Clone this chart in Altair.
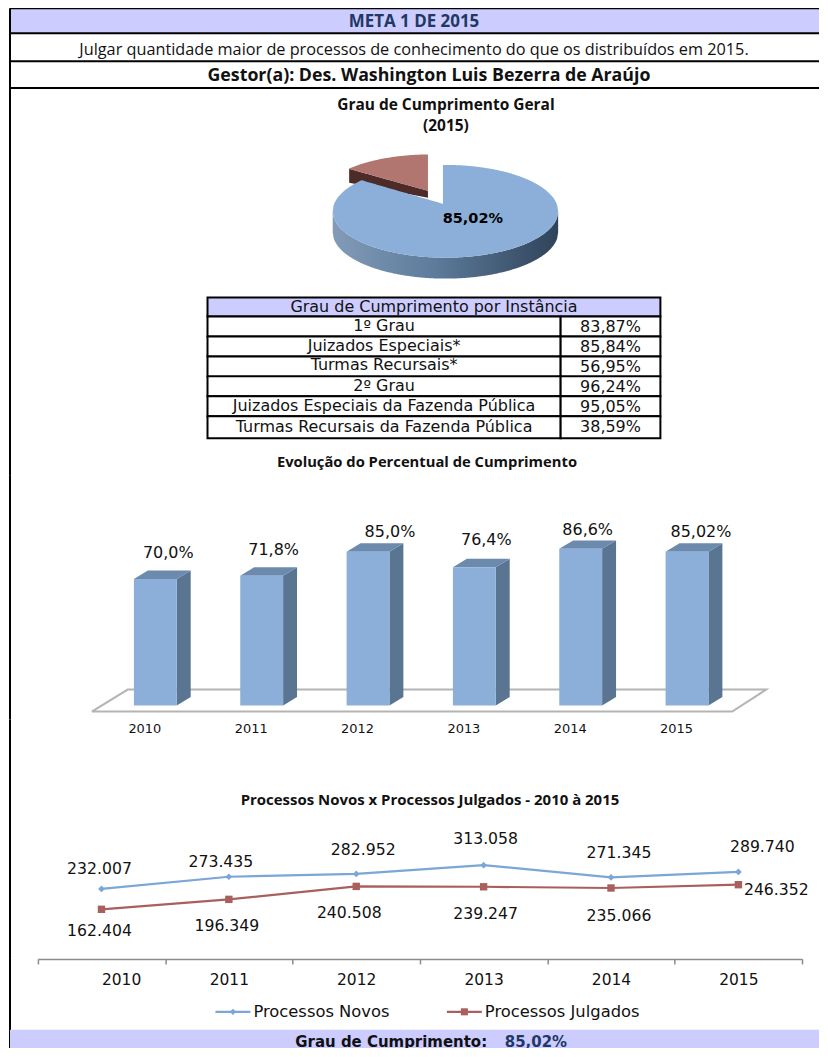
import math
import altair as alt
import pandas as pd

# ---------- data ----------
years = [2010, 2011, 2012, 2013, 2014, 2015]
pct_values = [70.0, 71.8, 85.0, 76.4, 86.6, 85.02]
pct_labels = ["70,0%", "71,8%", "85,0%", "76,4%", "86,6%", "85,02%"]
novos = [232007, 273435, 282952, 313058, 271345, 289740]
novos_labels = ["232.007", "273.435", "282.952", "313.058", "271.345", "289.740"]
julgados = [162404, 196349, 240508, 239247, 235066, 246352]
julgados_labels = ["162.404", "196.349", "240.508", "239.247", "235.066", "246.352"]
instancias = ["1º Grau", "Juizados Especiais*", "Turmas Recursais*", "2º Grau",
              "Juizados Especiais da Fazenda Pública", "Turmas Recursais da Fazenda Pública"]
instancia_pct = ["83,87%", "85,84%", "56,95%", "96,24%", "95,05%", "38,59%"]

# ---------- layout ----------
LILAC = "#ccccff"
NAVY = "#1f3864"
SANS = "DejaVu Sans"
CAL = "Open Sans"
P = [8, 480, 725, 965, 1057]   # panel limits in page pixels
RIGHT = 820
W = RIGHT - 8


def sx():
    return alt.Scale(domain=[8, RIGHT], nice=False, zero=False)


def sy(i):
    return alt.Scale(domain=[P[i + 1], P[i]], nice=False, zero=False)


def ch(df):
    return alt.Chart(pd.DataFrame(df))


def px_enc(i, **kw):
    return dict(x=alt.X("x:Q", scale=sx(), axis=None), y=alt.Y("y:Q", scale=sy(i), axis=None), **kw)


def texts(i, rows, **mk):
    return ch(rows).mark_text(baseline="middle", **mk).encode(**px_enc(i, text="t:N"))


def frame(i):
    return ch({"x": [9], "y": [max(P[i], 12)], "y2": [P[i + 1]]}).mark_rule(color="black", strokeWidth=2).encode(
        x=alt.X("x:Q", scale=sx(), axis=None), y=alt.Y("y:Q", scale=sy(i), axis=None), y2="y2:Q")


def area(i, pts, **mk):
    return ch(pts).mark_area(**mk).encode(
        x=alt.X("x:Q", scale=sx(), axis=None), y=alt.Y("y:Q", scale=sy(i), axis=None), y2="y2:Q", detail="k:N")


# ---------- panel 1: header, pie, table ----------
row_lines = [12, 37, 65, 92]
fills = ch({"x": [9], "x2": [RIGHT], "y": [12], "y2": [37]}).mark_rect(color=LILAC).encode(
    x=alt.X("x:Q", scale=sx(), axis=None), x2="x2:Q", y=alt.Y("y:Q", scale=sy(0), axis=None), y2="y2:Q")
rules = ch({"x": [9] * 4, "x2": [RIGHT] * 4, "y": row_lines}).mark_rule(color="black", strokeWidth=2).encode(
    x=alt.X("x:Q", scale=sx(), axis=None), x2="x2:Q", y=alt.Y("y:Q", scale=sy(0), axis=None))
head1 = texts(0, {"x": [414], "y": [26], "t": ["META 1 DE 2015"]}, font=CAL, fontSize=17, fontWeight="bold", color=NAVY)
head2 = texts(0, {"x": [414], "y": [54], "t": ["Julgar quantidade maior de processos de conhecimento do que os distribuídos em 2015."]},
              font=CAL, fontSize=16.3, color="#111111")
head3 = texts(0, {"x": [429], "y": [80], "t": ["Gestor(a): Des. Washington Luis Bezerra de Araújo"]},
              font=CAL, fontSize=17.8, fontWeight="bold", color="#111111")
t_pie = texts(0, {"x": [446, 446], "y": [109, 130], "t": ["Grau de Cumprimento Geral", "(2015)"]},
              font=CAL, fontSize=15.5, fontWeight="bold", color="#111111")
t_bar = texts(0, {"x": [427], "y": [468], "t": ["Evolução do Percentual de Cumprimento"]},
              font=CAL, fontSize=14.8, fontWeight="bold", color="#111111")

# 3-D pie, an ellipse cut at the slice boundary
CX, CY, RX, RY, DEPTH = 445.5, 215.5, 113, 46.5, 21
APEX_X, APEX_Y = 443, 208
CUT = math.radians(312)


def e_top(x, cx=CX, cy=CY):
    return cy - RY * math.sqrt(max(0, 1 - ((x - cx) / RX) ** 2))


def e_bot(x, cx=CX, cy=CY):
    return cy + RY * math.sqrt(max(0, 1 - ((x - cx) / RX) ** 2))


xs = [CX - RX + i * (2 * RX) / 240 for i in range(241)]
wall = {"x": xs, "y": [e_bot(x) for x in xs], "y2": [e_bot(x) + DEPTH for x in xs], "k": ["w"] * 241}
side_grad = alt.Gradient(gradient="linear", x1=0, x2=1, y1=0, y2=0, stops=[
    alt.GradientStop(color="#829bb8", offset=0), alt.GradientStop(color="#5d7b9b", offset=0.45),
    alt.GradientStop(color="#30435a", offset=1)])
pie_wall = area(0, wall, color=side_grad)
cut_x = CX + RX * math.sin(CUT)
cut_y = CY - RY * math.cos(CUT)
bx, btop, bbot = [], [], []
done = False
for x in xs:
    if x < cut_x:
        bx.append(x); btop.append(e_top(x)); bbot.append(e_bot(x))
    elif x <= APEX_X:
        f = (x - cut_x) / (APEX_X - cut_x)
        bx.append(x); btop.append(cut_y + f * (APEX_Y - cut_y)); bbot.append(e_bot(x))
    else:
        if not done:
            done = True
            bx.append(APEX_X); btop.append(APEX_Y); bbot.append(e_bot(APEX_X))
            bx.append(APEX_X + 0.01); btop.append(e_top(APEX_X + 0.01)); bbot.append(e_bot(APEX_X))
        bx.append(x); btop.append(e_top(x)); bbot.append(e_bot(x))
pie_blue = area(0, {"x": bx, "y": btop, "y2": bbot, "k": ["b"] * len(bx)}, color="#8bafd8")

# exploded slice
OX, OY = -15.5, -10.5
rcx, rcy = CX + OX, CY + OY
rax, ray = 428, 195
tip_x, tip_y = 349, 173
rx_ = [tip_x + i * (rax - tip_x) / 60 for i in range(61)]
ry_ = [tip_y + (x - tip_x) / (rax - tip_x) * (ray - tip_y) for x in rx_]
red_side = area(0, {"x": rx_, "y": ry_, "y2": [y + 14 - 7 * (x - tip_x) / (rax - tip_x) for x, y in zip(rx_, ry_)],
                    "k": ["s"] * 61}, color="#4d2b29")
red_top = area(0, {"x": rx_, "y": [min(e_top(x, rcx, rcy), y) for x, y in zip(rx_, ry_)], "y2": ry_,
                   "k": ["t"] * 61}, color="#b1766f")
pie_lab = texts(0, {"x": [473], "y": [223], "t": ["85,02%"]}, font=SANS, fontSize=14.5, fontWeight="bold", color="black")

# table
tab_y = [302, 321, 341, 361, 381, 401, 421, 443]
T_L, T_M, T_R = 207, 561, 661
tab_h = ch({"x": [T_L], "x2": [T_R], "y": [tab_y[0]], "y2": [tab_y[1]]}).mark_rect(color=LILAC, stroke="black", strokeWidth=2).encode(
    x=alt.X("x:Q", scale=sx(), axis=None), x2="x2:Q", y=alt.Y("y:Q", scale=sy(0), axis=None), y2="y2:Q")
cells = {"x": [], "x2": [], "y": [], "y2": []}
for k in range(6):
    for a, b in ((T_L, T_M), (T_M, T_R)):
        cells["x"].append(a); cells["x2"].append(b); cells["y"].append(tab_y[k + 1]); cells["y2"].append(tab_y[k + 2])
tab_c = ch(cells).mark_rect(fill="white", stroke="black", strokeWidth=2).encode(
    x=alt.X("x:Q", scale=sx(), axis=None), x2="x2:Q", y=alt.Y("y:Q", scale=sy(0), axis=None), y2="y2:Q")
tab_t0 = texts(0, {"x": [434], "y": [311], "t": ["Grau de Cumprimento por Instância"]}, font=SANS, fontSize=16, color="#111111")
tab_t1 = texts(0, {"x": [384] * 6, "y": [331, 351, 370, 391, 411, 432], "t": instancias}, font=SANS, fontSize=16, color="#111111")
tab_t2 = texts(0, {"x": [611] * 6, "y": [332, 352, 372, 392, 412, 432], "t": instancia_pct}, font=SANS, fontSize=16, color="#111111")

p1 = alt.layer(fills, rules, frame(0), head1, head2, head3, t_pie, t_bar, pie_wall, red_side, red_top, pie_blue, pie_lab,
               tab_h, tab_c, tab_t0, tab_t1, tab_t2).properties(width=W, height=P[1] - P[0])

# ---------- panel 2: 3-D columns ----------
BAR_K = 1.814          # pixels per percent point
BAR_BASE = 711
STEP = 106.6
C0 = 154.7
HALF = 0.2015
DX = 0.131
DZ = 8.5 / BAR_K


def to_year(p):
    return 2010 + (p - C0) / STEP


def to_pct(p):
    return (BAR_BASE - p) / BAR_K


xb = alt.Scale(domain=[to_year(8), to_year(RIGHT)], nice=False, zero=False)
yb = alt.Scale(domain=[to_pct(P[2]), to_pct(P[1])], nice=False, zero=False)
xb_axis = alt.Axis(values=years, format="d", title=None, domain=False, ticks=False, grid=False,
                   labelFont=SANS, labelFontSize=13, labelColor="#111111", labelOffset=-11, labelPadding=3)
floor_x = [91, 733, 767, 127, 91]
floor_y = [717, 717, 695, 695, 717]
floor = ch({"x": [to_year(v) for v in floor_x], "y": [to_pct(v) for v in floor_y], "o": list(range(5))}).mark_line(
    color="#b4b4b4", strokeWidth=2).encode(
    x=alt.X("x:Q", scale=xb, axis=xb_axis), y=alt.Y("y:Q", scale=yb, axis=None), order="o:Q")
front = ch({"x": [y - HALF for y in years], "x2": [y + HALF for y in years], "y": pct_values, "y2": [0] * 6}).mark_rect(
    color="#8bafd8").encode(x=alt.X("x:Q", scale=xb, axis=xb_axis), x2="x2:Q", y=alt.Y("y:Q", scale=yb, axis=None), y2="y2:Q")
side_rows = {"x": [], "y": [], "y2": [], "yr": []}
top_rows = {"x": [], "y": [], "y2": [], "yr": []}
for yr, v in zip(years, pct_values):
    side_rows["x"] += [yr + HALF, yr + HALF + DX]
    side_rows["y"] += [v, v + DZ]
    side_rows["y2"] += [0, DZ]
    side_rows["yr"] += [yr, yr]
    top_rows["x"] += [yr - HALF, yr - HALF + DX, yr + HALF, yr + HALF + DX]
    top_rows["y"] += [v, v + DZ, v + DZ, v + DZ]
    top_rows["y2"] += [v, v, v, v + DZ]
    top_rows["yr"] += [yr] * 4
side = ch(side_rows).mark_area(color="#5a7591").encode(
    x=alt.X("x:Q", scale=xb, axis=xb_axis), y=alt.Y("y:Q", scale=yb, axis=None), y2="y2:Q", detail="yr:N")
top = ch(top_rows).mark_area(color="#6b8aae").encode(
    x=alt.X("x:Q", scale=xb, axis=xb_axis), y=alt.Y("y:Q", scale=yb, axis=None), y2="y2:Q", detail="yr:N")
bar_dx = [13, 12, 22, 12, 7, 14]
bar_lift = [26, 26, 20, 27, 19, 20]
bar_txt = ch({"x": [y + d / STEP for y, d in zip(years, bar_dx)],
              "y": [v + l / BAR_K for v, l in zip(pct_values, bar_lift)], "t": pct_labels}).mark_text(
    font=SANS, fontSize=16, color="#111111", baseline="middle").encode(
    x=alt.X("x:Q", scale=xb, axis=xb_axis), y=alt.Y("y:Q", scale=yb, axis=None), text="t:N")
p2_frame = ch({"x": [to_year(9)], "y": [to_pct(P[1])], "y2": [to_pct(P[2])]}).mark_rule(color="black", strokeWidth=2).encode(
    x=alt.X("x:Q", scale=xb, axis=xb_axis), y=alt.Y("y:Q", scale=yb, axis=None), y2="y2:Q")
p2 = alt.layer(p2_frame, floor, side, top, front, bar_txt).properties(width=W, height=P[2] - P[1])

# ---------- panel 3: lines ----------
LINE_K = 0.000294      # pixels per process
LINE_ZERO = 963
L_STEP = 127.7
L0 = 100.7
xl = alt.Scale(domain=[2009.5, 2015.5], range=[L0 - L_STEP / 2 - 8, L0 + 5.5 * L_STEP - 8], nice=False, zero=False)
yl = alt.Scale(domain=[(LINE_ZERO - P[3]) / LINE_K, (LINE_ZERO - P[2]) / LINE_K], nice=False, zero=False)
edges = [2009.5 + i for i in range(7)]
xl_axis = alt.Axis(values=edges, title=None, grid=False, labelExpr="datum.value < 2015 ? format(datum.value + 0.5, 'd') : ''",
                   labelOffset=63.8, labelFont=SANS, labelFontSize=15.5, labelColor="#111111", labelPadding=9,
                   domainColor="#8c8c8c", tickColor="#8c8c8c", tickSize=5, domainWidth=1.5, tickWidth=1.5)
ex = alt.X("x:Q", scale=xl, axis=xl_axis)
ey = alt.Y("y:Q", scale=yl, axis=None)
line_n = ch({"x": years, "y": novos}).mark_line(color="#7ba6d6", strokeWidth=2.2).encode(x=ex, y=ey)
line_j = ch({"x": years, "y": julgados}).mark_line(color="#a9605c", strokeWidth=2.2).encode(x=ex, y=ey)
pt_n = ch({"x": years, "y": novos}).mark_point(shape="diamond", filled=True, size=45, color="#7ba6d6", opacity=1).encode(x=ex, y=ey)
pt_j = ch({"x": years, "y": julgados}).mark_point(shape="square", filled=True, size=55, color="#a9605c", opacity=1).encode(x=ex, y=ey)
n_dx = [-2, -8, 7, 2, 8, 24]
n_dy = [-20, -15, -24, -26, -24, -25]
j_dx = [-2, -2, -7, 2, 8, 38]
j_dy = [22, 27, 27, 27, 28, 5]


def lab(vals, labs, dxs, dys):
    return ch({"x": [y + d / L_STEP for y, d in zip(years, dxs)],
               "y": [v - d / LINE_K for v, d in zip(vals, dys)], "t": labs}).mark_text(
        font=SANS, fontSize=15.7, color="#111111", baseline="middle").encode(x=ex, y=ey, text="t:N")


lab_n = lab(novos, novos_labels, n_dx, n_dy)
lab_j = lab(julgados, julgados_labels, j_dx, j_dy)
t_line = ch({"t": ["Processos Novos x Processos Julgados - 2010 à 2015"]}).mark_text(
    font=CAL, fontSize=15, fontWeight="bold", color="#111111", baseline="middle").encode(
    x=alt.value(430 - 8), y=alt.value(806 - P[2]), text="t:N")
p3_frame = ch({"y": [0]}).mark_rule(color="black", strokeWidth=2).encode(
    x=alt.value(1), y=alt.value(0), y2=alt.value(P[3] - P[2]))
p3 = alt.layer(p3_frame, line_n, line_j, pt_n, pt_j, lab_n, lab_j, t_line).properties(width=W, height=P[3] - P[2])

# ---------- panel 4: legend and footer ----------
leg_n = ch({"x": [215], "x2": [250], "y": [1018]}).mark_rule(color="#7ba6d6", strokeWidth=2.2).encode(
    x=alt.X("x:Q", scale=sx(), axis=None), x2="x2:Q", y=alt.Y("y:Q", scale=sy(3), axis=None))
leg_j = ch({"x": [447], "x2": [482], "y": [1018]}).mark_rule(color="#a9605c", strokeWidth=2.2).encode(
    x=alt.X("x:Q", scale=sx(), axis=None), x2="x2:Q", y=alt.Y("y:Q", scale=sy(3), axis=None))
leg_pn = ch({"x": [232.5], "y": [1018]}).mark_point(shape="diamond", filled=True, size=40, color="#7ba6d6", opacity=1).encode(
    x=alt.X("x:Q", scale=sx(), axis=None), y=alt.Y("y:Q", scale=sy(3), axis=None))
leg_pj = ch({"x": [464.5], "y": [1018]}).mark_point(shape="square", filled=True, size=50, color="#a9605c", opacity=1).encode(
    x=alt.X("x:Q", scale=sx(), axis=None), y=alt.Y("y:Q", scale=sy(3), axis=None))
leg_t = texts(3, {"x": [253, 485], "y": [1018, 1018], "t": ["Processos Novos", "Processos Julgados"]},
              font=SANS, fontSize=16.4, color="#111111", align="left")
foot_r = ch({"x": [9], "x2": [RIGHT], "y": [1036], "y2": [1057]}).mark_rect(color=LILAC).encode(
    x=alt.X("x:Q", scale=sx(), axis=None), x2="x2:Q", y=alt.Y("y:Q", scale=sy(3), axis=None), y2="y2:Q")
foot_a = texts(3, {"x": [295], "y": [1048], "t": ["Grau de Cumprimento:"]}, font=SANS, fontSize=15, fontWeight="bold",
               color="#111111", align="left")
foot_b = texts(3, {"x": [505], "y": [1048], "t": ["85,02%"]}, font=SANS, fontSize=15, fontWeight="bold", color=NAVY, align="left")
p4 = alt.layer(frame(3), leg_n, leg_j, leg_pn, leg_pj, leg_t, foot_r, foot_a, foot_b).properties(width=W, height=P[4] - P[3])

chart = alt.vconcat(p1, p2, p3, p4, spacing=0, bounds="flush").resolve_scale(x="independent", y="independent").configure_view(
    stroke=None).properties(padding={"left": 0, "right": 0, "top": -5, "bottom": -5}, background="white")

chart.save("out.html", embed_options={"renderer": "svg", "actions": False})
